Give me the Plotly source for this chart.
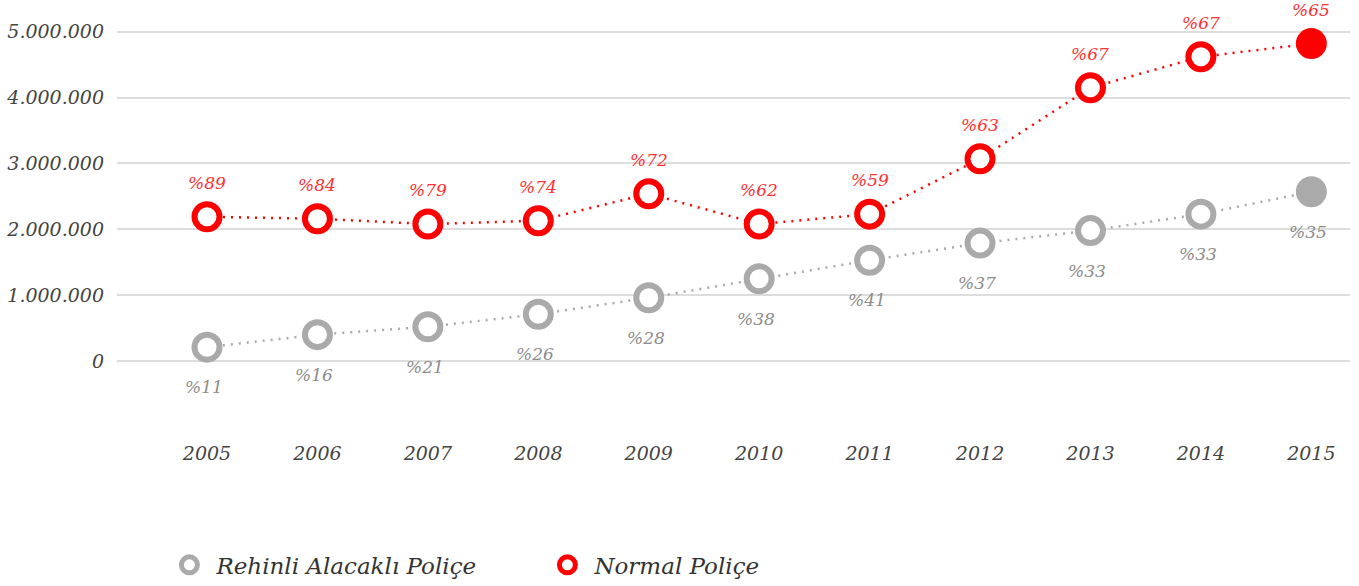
import plotly.graph_objects as go

years = [2005, 2006, 2007, 2008, 2009, 2010, 2011, 2012, 2013, 2014, 2015]
normal_values = [2190000, 2160000, 2080000, 2130000, 2540000, 2080000, 2230000, 3070000, 4150000, 4620000, 4820000]
rehinli_values = [210000, 400000, 520000, 710000, 960000, 1250000, 1530000, 1790000, 1980000, 2230000, 2570000]
normal_pct = ["%89", "%84", "%79", "%74", "%72", "%62", "%59", "%63", "%67", "%67", "%65"]
rehinli_pct = ["%11", "%16", "%21", "%26", "%28", "%38", "%41", "%37", "%33", "%33", "%35"]
ytick_vals = [0, 1000000, 2000000, 3000000, 4000000, 5000000]
ytick_text = ["0", "1.000.000", "2.000.000", "3.000.000", "4.000.000", "5.000.000"]

RED = "#ff0000"
GRAY = "#aaaaaa"
FONT = "DejaVu Serif"

def fills(n, color):
    return ["white"] * (n - 1) + [color]

fig = go.Figure()
for vals, color in [(rehinli_values, GRAY), (normal_values, RED)]:
    fig.add_trace(go.Scatter(
        x=years, y=vals, mode="lines+markers", showlegend=False, cliponaxis=False,
        line=dict(color=color, width=2.5, dash="2px,6px"),
        marker=dict(size=25, color=fills(len(years), color), line=dict(color=color, width=6)),
    ))
for color, name in [(GRAY, "Rehinli Alacaklı Poliçe"), (RED, "Normal Poliçe")]:
    fig.add_trace(go.Scatter(
        x=[None], y=[None], mode="markers", name=name,
        marker=dict(size=16, color="white", line=dict(color=color, width=5)),
    ))

annotations = []
for x, y, t in zip(years, normal_values, normal_pct):
    annotations.append(dict(x=x, y=y, text=t, showarrow=False, yshift=34,
                            font=dict(family=FONT, size=17, color="#ff3030", style="italic")))
for x, y, t in zip(years, rehinli_values, rehinli_pct):
    annotations.append(dict(x=x, y=y, text=t, showarrow=False, yshift=-40, xshift=-3,
                            font=dict(family=FONT, size=17, color="#8c8c8c", style="italic")))

fig.update_layout(
    width=1359, height=586,
    margin=dict(l=117, r=9, t=12, b=146, autoexpand=False),
    plot_bgcolor="white", paper_bgcolor="white",
    showlegend=True,
    annotations=annotations,
    legend=dict(orientation="h", xref="container", yref="container",
                x=0.1195, y=0.036, xanchor="left", yanchor="middle",
                font=dict(family=FONT, size=23, color="#333333", style="italic"),
                itemsizing="trace", itemwidth=44, traceorder="normal",
                entrywidth=319, entrywidthmode="pixels"),
    xaxis=dict(range=[2004.185, 2015.35], tickvals=years, showgrid=False, zeroline=False,
               showline=False, ticks="", automargin=False,
               tickfont=dict(family=FONT, size=19, color="#444444", style="italic")),
    yaxis=dict(range=[-1200000, 5300000], tickvals=ytick_vals, ticktext=ytick_text,
               showgrid=True, gridcolor="#dddddd", gridwidth=2, zeroline=False,
               showline=False, ticks="", ticklabelstandoff=12, automargin=False,
               tickfont=dict(family=FONT, size=19, color="#444444", style="italic")),
)

fig.write_html("out.html", config={"displayModeBar": False},
               post_script="document.body.style.margin='0';document.body.style.overflow='hidden';")
